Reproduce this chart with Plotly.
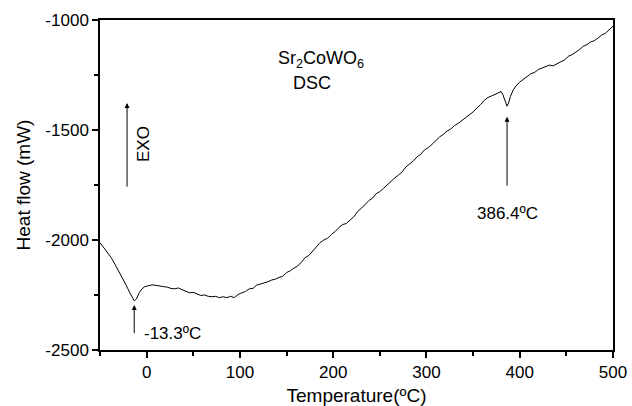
import plotly.graph_objects as go

# DSC trace of Sr2CoWO6: temperature (ºC) vs heat flow (mW)
temperature = [
    -50, -46, -42, -38, -34, -30, -26, -22, -18, -15, -13.3, -11, -8, -5, -2, 2, 6, 10,
    14, 18, 22, 26, 30, 34, 38, 42, 46, 50, 54, 58, 62, 66, 70, 74, 78, 82, 86, 90, 94,
    98, 102, 106, 110, 114, 118, 122, 126, 130, 134, 138, 142, 146, 150, 154, 158, 162,
    166, 170, 174, 178, 182, 186, 190, 194, 198, 202, 206, 210, 214, 218, 222, 226, 230,
    234, 238, 242, 246, 250, 254, 258, 262, 266, 270, 274, 278, 282, 286, 290, 294, 298,
    302, 306, 310, 314, 318, 322, 326, 330, 334, 338, 342, 346, 350, 354, 358, 362, 366,
    370, 374, 378, 380, 382, 384, 386.4, 388, 390, 393, 396, 400, 404, 408, 412, 416, 420,
    424, 428, 432, 436, 440, 444, 448, 452, 456, 460, 464, 468, 472, 476, 480, 484, 488,
    492, 496, 500,
]
heat_flow = [
    -2012, -2035, -2058, -2080, -2110, -2140, -2175, -2205, -2240, -2262, -2277, -2268,
    -2240, -2222, -2212, -2208, -2204, -2206, -2210, -2212, -2214, -2220, -2222, -2218,
    -2226, -2234, -2240, -2238, -2246, -2252, -2250, -2256, -2258, -2256, -2262, -2258,
    -2262, -2256, -2262, -2248, -2240, -2234, -2222, -2220, -2205, -2200, -2196, -2190,
    -2182, -2178, -2170, -2165, -2148, -2140, -2128, -2118, -2100, -2080, -2070, -2050,
    -2034, -2012, -2000, -1992, -1975, -1962, -1944, -1930, -1925, -1912, -1895, -1872,
    -1858, -1840, -1822, -1810, -1790, -1780, -1765, -1748, -1735, -1718, -1705, -1690,
    -1668, -1655, -1640, -1622, -1610, -1590, -1580, -1565, -1548, -1532, -1520, -1505,
    -1496, -1480, -1470, -1458, -1442, -1430, -1418, -1400, -1385, -1365, -1352, -1345,
    -1338, -1328, -1325, -1340, -1368, -1392, -1378, -1348, -1318, -1300, -1282, -1268,
    -1258, -1244, -1238, -1225, -1218, -1212, -1205, -1208, -1198, -1190, -1182, -1165,
    -1158, -1148, -1135, -1120, -1112, -1100, -1094, -1082, -1068, -1060, -1045, -1028,
]

# Axis ticks (plain hyphen for negatives)
x_ticks = [0, 100, 200, 300, 400, 500]
x_ticklabels = ["0", "100", "200", "300", "400", "500"]
y_ticks = [-2500, -2000, -1500, -1000]
y_ticklabels = ["-2500", "-2000", "-1500", "-1000"]

# Marked thermal events
peak_temps = [-13.3, 386.4]
peak_labels = ["-13.3ºC", "386.4ºC"]

FONT = "Arial, Liberation Sans, sans-serif"
ANN_SIZE = 17

fig = go.Figure()
fig.add_trace(go.Scatter(
    x=temperature, y=heat_flow, mode="lines",
    line=dict(color="black", width=1), showlegend=False, hoverinfo="skip",
))


def arrow(x, y_tail, y_head):
    fig.add_annotation(
        x=x, y=y_head, ax=x, ay=y_tail,
        xref="x", yref="y", axref="x", ayref="y",
        showarrow=True, arrowhead=2, arrowsize=1, arrowwidth=1,
        arrowcolor="black", text="",
    )


# Low-temperature event
arrow(peak_temps[0], -2430, -2295)
fig.add_annotation(
    x=-5, y=-2427, xref="x", yref="y", text=peak_labels[0], showarrow=False,
    xanchor="left", yanchor="middle", font=dict(family=FONT, size=ANN_SIZE, color="black"),
)

# High-temperature event
arrow(peak_temps[1], -1760, -1440)
fig.add_annotation(
    x=peak_temps[1], y=-1880, xref="x", yref="y", text=peak_labels[1], showarrow=False,
    xanchor="center", yanchor="middle", font=dict(family=FONT, size=ANN_SIZE, color="black"),
)

# Exothermic direction indicator
arrow(-21, -1764, -1377)
fig.add_annotation(
    x=-4, y=-1564, xref="x", yref="y", text="EXO", showarrow=False, textangle=-90,
    xanchor="center", yanchor="middle", font=dict(family=FONT, size=ANN_SIZE, color="black"),
)

# Sample / technique label
fig.add_annotation(
    x=187, y=-1178, xref="x", yref="y", text="Sr<sub>2</sub>CoWO<sub>6</sub>",
    showarrow=False, xanchor="center", yanchor="middle",
    font=dict(family=FONT, size=18, color="black"),
)
fig.add_annotation(
    x=177, y=-1285, xref="x", yref="y", text="DSC",
    showarrow=False, xanchor="center", yanchor="middle",
    font=dict(family=FONT, size=18, color="black"),
)

axis_common = dict(
    showline=True, linecolor="black", linewidth=1.5, mirror=True,
    ticks="outside", tickcolor="black", tickwidth=1.5, ticklen=6,
    showgrid=False, zeroline=False, automargin=False,
    tickfont=dict(family=FONT, size=17, color="black"),
)

fig.update_xaxes(
    range=[-50, 500], tickmode="array", tickvals=x_ticks, ticktext=x_ticklabels,
    minor=dict(dtick=50, tick0=0, ticks="outside", ticklen=4, tickcolor="black", tickwidth=1.5),
    title=dict(text="Temperature(ºC)", font=dict(family=FONT, size=19, color="black"), standoff=10),
    **axis_common,
)
fig.update_yaxes(
    range=[-2500, -1000], tickmode="array", tickvals=y_ticks, ticktext=y_ticklabels,
    minor=dict(dtick=250, tick0=-2500, ticks="outside", ticklen=4, tickcolor="black", tickwidth=1.5),
    title=dict(text="Heat flow (mW)", font=dict(family=FONT, size=19, color="black"), standoff=10),
    **axis_common,
)

fig.update_layout(
    width=632, height=406,
    margin=dict(l=100, r=19, t=20, b=56, pad=0),
    paper_bgcolor="white", plot_bgcolor="white",
    font=dict(family=FONT, color="black"),
)

fig.write_html("out.html")
